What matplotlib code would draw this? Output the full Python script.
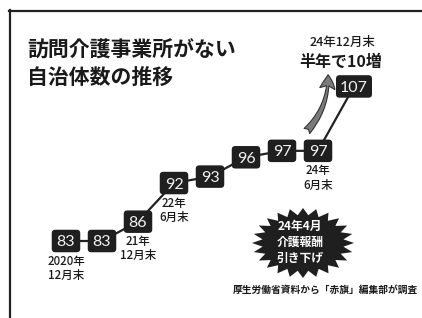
import numpy as np
import matplotlib
matplotlib.use("Agg")
import matplotlib.pyplot as plt
from matplotlib.patches import FancyBboxPatch, Polygon, FancyArrowPatch
from matplotlib.transforms import Affine2D, ScaledTranslation
from matplotlib.lines import Line2D

plt.rcParams['font.family'] = ['Noto Sans CJK JP', 'DejaVu Sans']

# ---- data ----
values = [83, 83, 86, 92, 93, 96, 97, 97, 107]
period_labels = ["2020年\n12月末", "", "21年\n12月末", "22年\n6月末", "", "", "", "24年\n6月末", ""]
title = "訪問介護事業所がない\n自治体数の推移"
top_note_small = "24年12月末"
top_note_big = "半年で10増"
burst_text = "24年4月\n介護報酬\n引き下げ"
source = "厚生労働省資料から「赤旗」編集部が調査"

W, H = 422, 318
fig = plt.figure(figsize=(W / 100, H / 100), dpi=100)
fig.patch.set_facecolor('white')
ax = fig.add_axes([0, 0, 1, 1])
ax.set_axis_off()

x = np.arange(len(values))
# axes limits so that the series sits where it does in the reference
ax.set_xlim(-66 / 36, (W - 66) / 36)
ax.set_ylim(83 - (H - 241) / 6.44, 83 + 241 / 6.44)

# pixel transform (origin top-left)
px = Affine2D().scale(1 / W, -1 / H).translate(0, 1) + fig.transFigure

ink = '#222222'

# frame lines (top and left)
fig.add_artist(Line2D([9, W], [10.5, 10.5], transform=px, color=ink, lw=1.6))
fig.add_artist(Line2D([10, 10], [9.8, H], transform=px, color=ink, lw=1.6))

# title
fig.text(27, 64, title, transform=px, fontsize=15, fontweight='bold',
         ha='left', va='center', linespacing=1.35, color='#1a1a1a')

# connecting line
ax.plot(x, values, color=ink, lw=1.6, zorder=2, solid_capstyle='butt')

# boxes with values
for xi, v, lab in zip(x, values, period_labels):
    w = (0.36 if v >= 100 else 0.285)
    h = 0.225
    tr = fig.dpi_scale_trans + ScaledTranslation(xi, v, ax.transData)
    p = FancyBboxPatch((-w / 2, -h / 2), w, h,
                       boxstyle='round,pad=0,rounding_size=0.035',
                       transform=tr, fc='#1f1f1f', ec='none', zorder=3, clip_on=False)
    ax.add_patch(p)
    ax.text(xi, v, str(v), color='#f2f2f2', ha='center', va='center_baseline',
            fontsize=11.5, family=['Lato', 'DejaVu Sans'], zorder=4)
    if lab:
        ax.annotate(lab, (xi, v), xytext=(0, -9.8), textcoords='offset points',
                    ha='center', va='top', fontsize=8.3, fontweight='medium',
                    linespacing=1.1, color='#1a1a1a')

# top notes
fig.text(343, 42, top_note_small, transform=px, fontsize=9, fontweight='medium',
         ha='center', va='center', color='#1a1a1a')
fig.text(341, 62, top_note_big, transform=px, fontsize=11.5, fontweight='bold',
         ha='center', va='center', color='#1a1a1a')

# curved arrow
arr = FancyArrowPatch((305, 133), (328, 72), transform=px,
                      connectionstyle='arc3,rad=0.22',
                      arrowstyle='fancy,head_length=10,head_width=11,tail_width=5.5',
                      mutation_scale=1, fc='#7a7a7a', ec='#333333', lw=0.8, zorder=5)
fig.add_artist(arr)

# starburst
cx, cy, rx, ry = 303, 243, 51, 35
n = 24
ang = np.linspace(0, 2 * np.pi, 2 * n, endpoint=False) + np.pi / 2
rad = np.where(np.arange(2 * n) % 2 == 0, 1.0, 0.8)
verts = np.column_stack([cx + rx * rad * np.cos(ang), cy - ry * rad * np.sin(ang)])
fig.add_artist(Polygon(verts, closed=True, transform=px, fc='#1f1f1f', ec='none'))
fig.text(300, 242, burst_text, transform=px, fontsize=8.5, fontweight='bold',
         ha='center', va='center', linespacing=1.3, color='white')

# source
fig.text(418, 290, source, transform=px, fontsize=7.0, fontweight='bold',
         ha='right', va='center', color='#1a1a1a')

fig.savefig('out.png', dpi=100, facecolor='white')
